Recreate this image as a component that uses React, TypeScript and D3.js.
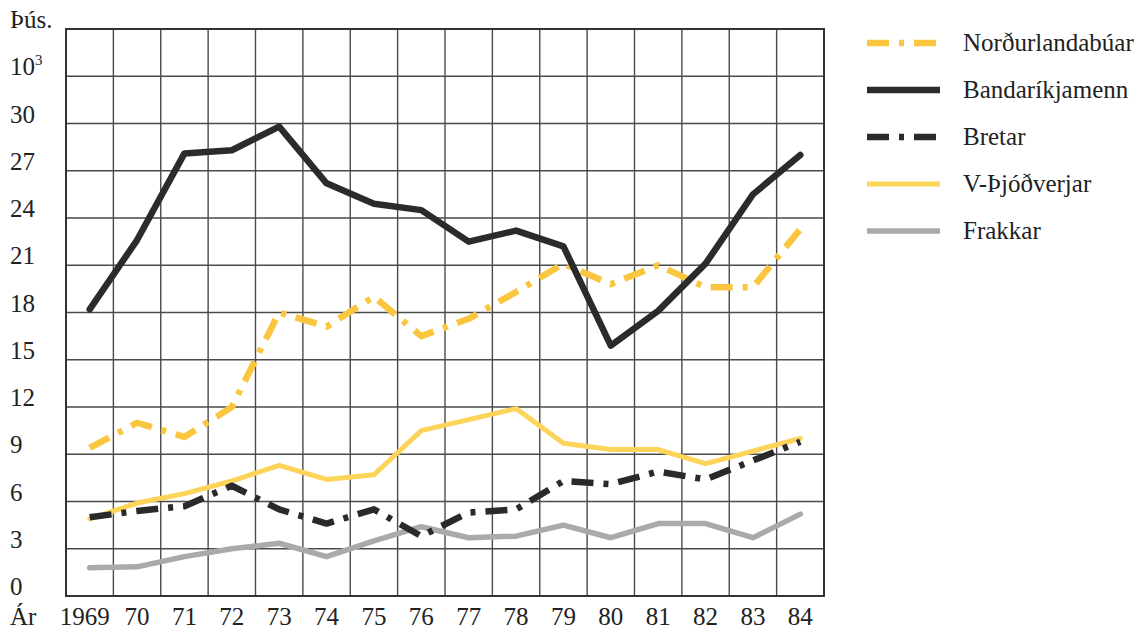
import * as d3 from "d3";

const W = 1142;
const H = 633;
// plot area in page coords
const PLOT = { left: 66, right: 824, top: 29, bottom: 596 };

const years = ["1969", "70", "71", "72", "73", "74", "75", "76", "77", "78", "79", "80", "81", "82", "83", "84"];
const yTicks = [0, 3, 6, 9, 12, 15, 18, 21, 24, 27, 30];

const nordurlandabuar = [9.4, 11.0, 10.1, 12.0, 18.0, 17.1, 19.0, 16.5, 17.6, 19.3, 21.1, 19.8, 21.0, 19.6, 19.6, 23.3];
const bandarikjamenn = [18.2, 22.6, 28.1, 28.3, 29.8, 26.2, 24.9, 24.5, 22.5, 23.2, 22.2, 15.9, 18.1, 21.1, 25.5, 28.0];
const bretar = [5.0, 5.4, 5.7, 7.0, 5.5, 4.6, 5.5, 3.8, 5.3, 5.5, 7.3, 7.1, 7.9, 7.4, 8.6, 9.8];
const vthjodverjar = [4.9, 5.9, 6.5, 7.3, 8.3, 7.4, 7.7, 10.5, 11.2, 11.9, 9.7, 9.3, 9.3, 8.4, 9.2, 10.0];
const frakkar = [1.8, 1.85, 2.5, 3.0, 3.35, 2.5, 3.5, 4.4, 3.7, 3.8, 4.5, 3.7, 4.6, 4.6, 3.7, 5.2];

type Series = { name: string; values: number[]; color: string; width: number; dash?: string };

// drawing order (last on top)
const series: Series[] = [
  { name: "Frakkar", values: frakkar, color: "#aaaaaa", width: 5.5 },
  { name: "V-Þjóðverjar", values: vthjodverjar, color: "#fdd45a", width: 5 },
  { name: "Bretar", values: bretar, color: "#2a2a2a", width: 6.5, dash: "22 10 5 10" },
  { name: "Norðurlandabúar", values: nordurlandabuar, color: "#fbc63f", width: 6.5, dash: "22 10 5 10" },
  { name: "Bandaríkjamenn", values: bandarikjamenn, color: "#2b2b2b", width: 6.5 },
];
const legendOrder = ["Norðurlandabúar", "Bandaríkjamenn", "Bretar", "V-Þjóðverjar", "Frakkar"];

const FONT = "'Liberation Serif', 'DejaVu Serif', serif";

export default function App() {
  const xScale = d3.scaleBand<string>().domain(years).range([PLOT.left, PLOT.right]).padding(0);
  const yScale = d3.scaleLinear().domain([0, 36]).range([PLOT.bottom, PLOT.top]);
  const xc = (i: number) => (xScale(years[i]) ?? 0) + xScale.bandwidth() / 2;

  const line = d3
    .line<number>()
    .x((_, i) => xc(i))
    .y((d) => yScale(d));

  // vertical grid: band edges
  const vLines = years.map((y) => xScale(y) ?? 0).concat([PLOT.right]);
  const hLines = d3.range(0, 37, 3);

  return (
    <svg width={W} height={H} style={{ position: "absolute", left: 0, top: 0, background: "#fff" }}>
      {/* grid */}
      <g stroke="#4a4a4a" strokeWidth={1.4}>
        {vLines.map((x, i) => (
          <line key={"v" + i} x1={x} x2={x} y1={PLOT.top} y2={PLOT.bottom} />
        ))}
        {hLines.map((v) => (
          <line key={"h" + v} x1={PLOT.left} x2={PLOT.right} y1={yScale(v)} y2={yScale(v)} />
        ))}
      </g>
      <rect
        x={PLOT.left}
        y={PLOT.top}
        width={PLOT.right - PLOT.left}
        height={PLOT.bottom - PLOT.top}
        fill="none"
        stroke="#333"
        strokeWidth={2}
      />

      {/* series */}
      {series.map((s) => (
        <path
          key={s.name}
          d={line(s.values) || ""}
          fill="none"
          stroke={s.color}
          strokeWidth={s.width}
          strokeDasharray={s.dash}
          strokeLinejoin="round"
          strokeLinecap={s.dash ? "butt" : "round"}
        />
      ))}

      {/* y axis labels */}
      <g fontFamily={FONT} fontSize={25} fill="#222">
        {yTicks.map((t) => (
          <text key={t} x={10} y={yScale(t) - 1}>
            {t}
          </text>
        ))}
        <text x={10} y={yScale(33) - 1}>
          10
          <tspan fontSize={15} dy={-10}>
            3
          </tspan>
        </text>
        <text x={10} y={28}>Þús.</text>
      </g>

      {/* x axis labels */}
      <g fontFamily={FONT} fontSize={25} fill="#222">
        <text x={10} y={625}>Ár</text>
        {years.map((y, i) => (
          <text key={y} x={xc(i) - (i === 0 ? 5 : 0)} y={625} textAnchor="middle">
            {y}
          </text>
        ))}
      </g>

      {/* legend */}
      <g fontFamily={FONT} fontSize={25} fill="#222">
        {legendOrder.map((name, i) => {
          const s = series.find((d) => d.name === name)!;
          const ly = 43 + i * 47;
          return (
            <g key={name}>
              <line
                x1={867}
                x2={940}
                y1={ly}
                y2={ly}
                stroke={s.color}
                strokeWidth={s.width}
                strokeDasharray={s.dash}
              />
              <text x={963} y={ly + 8}>
                {name}
              </text>
            </g>
          );
        })}
      </g>
    </svg>
  );
}
